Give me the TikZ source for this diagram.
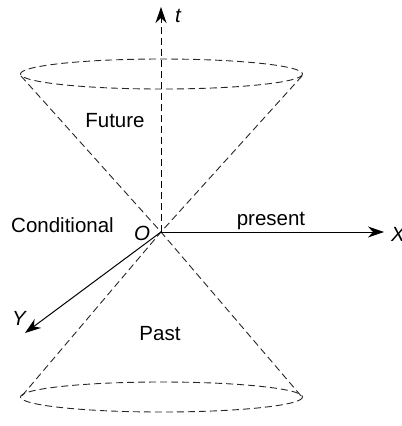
\documentclass[tikz,border=0pt]{standalone}
\usepackage{fontspec}
\setmainfont{Liberation Sans}
\usetikzlibrary{arrows.meta}
\begin{document}
\begin{tikzpicture}[x=1bp,y=-1bp,
  lbl/.style={inner sep=0pt,anchor=base,font=\fontsize{20.5bp}{24bp}\selectfont},
  ilbl/.style={inner sep=0pt,anchor=base,font=\fontsize{20.5bp}{24bp}\selectfont\itshape},
  dsh/.style={line width=0.9bp,draw=black!85,dash pattern=on 7bp off 4bp},
  axis/.style={line width=1bp,-{Stealth[length=16bp,width=11bp,inset=5bp]}}]
\useasboundingbox (0,0) rectangle (402,426);
% key points
\coordinate (O) at (161,232);
\coordinate (ttip) at (161,7);
\coordinate (xtip) at (384,232);
\coordinate (ytip) at (25,333);
\coordinate (tl) at (21,76);
\coordinate (tr) at (302,76);
\coordinate (bl) at (21,397);
\coordinate (br) at (302,397);
\coordinate (topc) at (161.5,74);
\coordinate (botc) at (161.5,397);
% cones
\draw[dsh] (topc) ellipse [x radius=141,y radius=15];
\draw[dsh] (botc) ellipse [x radius=141,y radius=15];
\draw[dsh] (tl) -- (O) -- (br);
\draw[dsh] (tr) -- (O) -- (bl);
% axes
\draw[dsh,-{Stealth[length=16bp,width=11bp,inset=5bp]},draw=black] (O) -- (ttip);
\draw[axis] (O) -- (xtip);
\draw[axis] (O) -- (ytip);
% labels
\node[ilbl] (tl1) at (178,22) {t};
\node[ilbl,anchor=base west] (xl) at (391,241) {X};
\node[ilbl] (yl) at (19,325) {Y};
\node[ilbl] (ol) at (142,240) {O};
\node[lbl] (fut) at (115,127) {Future};
\node[lbl] (cond) at (62.5,232) {Conditional};
\node[lbl] (pres) at (271,225) {present};
\node[lbl] (past) at (160,340) {Past};
\end{tikzpicture}
\end{document}
